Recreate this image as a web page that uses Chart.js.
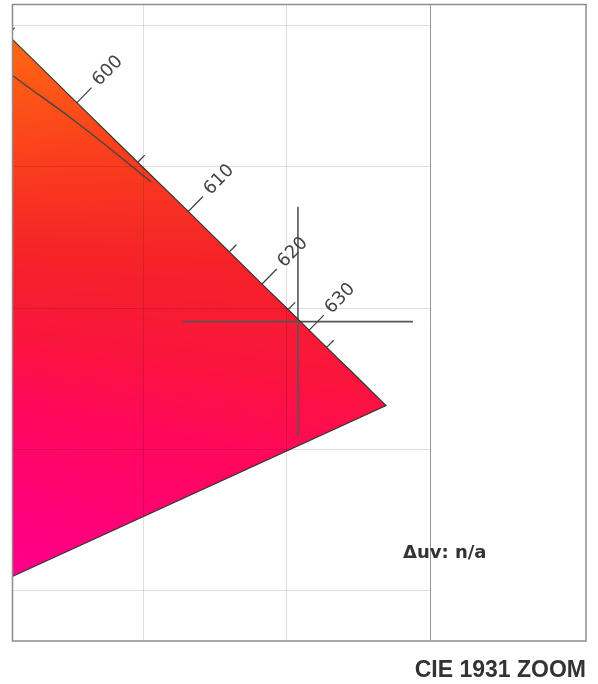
<!DOCTYPE html>
<html><head><meta charset="utf-8">
<script src="https://cdn.jsdelivr.net/npm/chart.js@4.4.1/dist/chart.umd.min.js"></script>
<style>html,body{margin:0;padding:0;background:#fff;} #wrap{width:598px;height:684px;}</style>
</head><body><div id="wrap"><canvas id="c" width="598" height="684"></canvas></div>
<script>
// CIE 1931 spectral locus (nm, x, y)
const SPECTRAL_NM = [575,580,585,590,595,600,605,610,615,620,625,630,635,640,645,650,655,660,665,670,675,680,685,690,695,700];
const SPECTRAL_X = [0.4788,0.5125,0.5448,0.5752,0.6029,0.6270,0.6482,0.6658,0.6801,0.6915,0.7006,0.7079,0.7140,0.7190,0.7230,0.7260,0.7283,0.7300,0.7311,0.7320,0.7327,0.7334,0.7340,0.7344,0.7346,0.7347];
const SPECTRAL_Y = [0.5202,0.4866,0.4544,0.4242,0.3965,0.3725,0.3514,0.3340,0.3197,0.3083,0.2993,0.2920,0.2859,0.2809,0.2770,0.2740,0.2717,0.2700,0.2689,0.2680,0.2673,0.2666,0.2660,0.2656,0.2654,0.2653];
// line of purples end (380 nm)
const PURPLE_END_X = [0.1741];
const PURPLE_END_Y = [0.0050];
// Planckian locus (K, x, y)
const PLANCK_K = [1000,1100,1200,1300,1400,1500];
const PLANCK_X = [0.6528,0.6387,0.6251,0.6117,0.5992,0.5857];
const PLANCK_Y = [0.3444,0.3561,0.3669,0.3768,0.3858,0.3940];
// wavelength ticks and labels
const TICK_NM = [595,600,605,610,615,620,625,630,635];
const LABEL_NM = [600,610,620,630];
// target crosshair
const TARGET_X = [0.7040];
const TARGET_Y = [0.2950];
// grid lines
const GRID_X = [0.65,0.70];
const GRID_Y = [0.20,0.25,0.30,0.35,0.40];
const X_MIN = 0.6044, X_MAX = 0.75, Y_MIN = 0.1820, Y_MAX = 0.4074;
const TITLE = 'CIE 1931 ZOOM';
const DUV_TEXT = 'Δuv: n/a';
// fill palette by hue angle around the white point
const WHITE_X = 0.3127, WHITE_Y = 0.3290;
const HUE_DEG = [-24,-20,-12,-8,-2,5,12,16];
const HUE_RGB = [[255,0,140],[255,0,128],[255,8,90],[250,20,62],[245,35,40],[250,65,28],[255,100,20],[255,110,15]];

const locusPts = SPECTRAL_X.map((x,i)=>({x, y:SPECTRAL_Y[i]}));
locusPts.push({x:PURPLE_END_X[0], y:PURPLE_END_Y[0]});
locusPts.push({x:SPECTRAL_X[0], y:SPECTRAL_Y[0]});
const planckPts = PLANCK_X.map((x,i)=>({x, y:PLANCK_Y[i]}));
const targetPts = TARGET_X.map((x,i)=>({x, y:TARGET_Y[i]}));

function hueColor(x, y){
  const t = Math.atan2(y-WHITE_Y, x-WHITE_X)*180/Math.PI;
  if (t <= HUE_DEG[0]) return HUE_RGB[0];
  for (let i=1;i<HUE_DEG.length;i++){
    if (t <= HUE_DEG[i]){
      const f = (t-HUE_DEG[i-1])/(HUE_DEG[i]-HUE_DEG[i-1]);
      const a = HUE_RGB[i-1], b = HUE_RGB[i];
      return [a[0]+(b[0]-a[0])*f, a[1]+(b[1]-a[1])*f, a[2]+(b[2]-a[2])*f];
    }
  }
  return HUE_RGB[HUE_RGB.length-1];
}

const cieFill = {
  id:'cieFill',
  beforeDatasetsDraw(chart){
    const {ctx, chartArea:a, scales:{x:sx, y:sy}} = chart;
    const w = Math.round(a.right-a.left), h = Math.round(a.bottom-a.top);
    const off = document.createElement('canvas'); off.width = w; off.height = h;
    const octx = off.getContext('2d');
    const img = octx.createImageData(w,h);
    for (let j=0;j<h;j++){
      const yv = sy.getValueForPixel(a.top+j+0.5);
      for (let i=0;i<w;i++){
        const xv = sx.getValueForPixel(a.left+i+0.5);
        const c = hueColor(xv,yv);
        const k = (j*w+i)*4;
        img.data[k]=c[0]; img.data[k+1]=c[1]; img.data[k+2]=c[2]; img.data[k+3]=255;
      }
    }
    octx.putImageData(img,0,0);
    ctx.save();
    ctx.beginPath(); ctx.rect(a.left,a.top,a.right-a.left,a.bottom-a.top); ctx.clip();
    ctx.beginPath();
    locusPts.forEach((p,i)=>{ const px=sx.getPixelForValue(p.x), py=sy.getPixelForValue(p.y); i?ctx.lineTo(px,py):ctx.moveTo(px,py); });
    ctx.closePath(); ctx.clip();
    ctx.drawImage(off,a.left,a.top);
    ctx.restore();
    // grid
    ctx.save();
    ctx.strokeStyle = 'rgba(0,0,0,0.12)'; ctx.lineWidth = 1;
    GRID_X.forEach(g=>{ const px=Math.round(sx.getPixelForValue(g))+0.5; ctx.beginPath(); ctx.moveTo(px,a.top); ctx.lineTo(px,a.bottom); ctx.stroke(); });
    GRID_Y.forEach(g=>{ const py=Math.round(sy.getPixelForValue(g))+0.5; ctx.beginPath(); ctx.moveTo(a.left,py); ctx.lineTo(a.right,py); ctx.stroke(); });
    ctx.restore();
  },
  afterDatasetsDraw(chart){
    const {ctx, chartArea:a, scales:{x:sx, y:sy}} = chart;
    const P = nm => { const i = SPECTRAL_NM.indexOf(nm); return {x:sx.getPixelForValue(SPECTRAL_X[i]), y:sy.getPixelForValue(SPECTRAL_Y[i])}; };
    ctx.save();
    ctx.beginPath(); ctx.rect(a.left,a.top,a.right-a.left,a.bottom-a.top); ctx.clip();
    ctx.strokeStyle = '#444'; ctx.lineWidth = 1.3; ctx.fillStyle = '#444';
    TICK_NM.forEach(nm=>{
      const p = P(nm), p0 = P(nm-5), p1 = P(nm+5);
      let tx = p1.x-p0.x, ty = p1.y-p0.y; const L = Math.hypot(tx,ty); tx/=L; ty/=L;
      const nx = ty, ny = -tx;
      const lab = LABEL_NM.includes(nm);
      const len = lab ? 21 : 10;
      ctx.beginPath(); ctx.moveTo(p.x,p.y); ctx.lineTo(p.x+nx*len, p.y+ny*len); ctx.stroke();
      if (lab){
        ctx.save();
        ctx.translate(p.x+nx*27, p.y+ny*27);
        ctx.rotate(Math.atan2(ny,nx));
        ctx.font = '18px "DejaVu Sans", sans-serif';
        ctx.textAlign = 'left'; ctx.textBaseline = 'middle';
        ctx.fillText(String(nm),0,0);
        ctx.restore();
      }
    });
    ctx.restore();
    // frame
    ctx.save();
    ctx.strokeStyle = '#8c8c8c'; ctx.lineWidth = 1.5;
    ctx.strokeRect(12.5, 4.5, 573.5, 636.5);
    ctx.strokeStyle = '#999'; ctx.lineWidth = 1;
    ctx.beginPath(); ctx.moveTo(Math.round(a.right)+0.5, a.top); ctx.lineTo(Math.round(a.right)+0.5, a.bottom); ctx.stroke();
    ctx.fillStyle = '#333';
    ctx.font = 'bold 18px "DejaVu Sans", sans-serif';
    ctx.textAlign = 'left'; ctx.textBaseline = 'alphabetic';
    ctx.fillText(DUV_TEXT, 403, 558);
    ctx.font = 'bold 23px "Liberation Sans", Arial, sans-serif';
    ctx.textAlign = 'right';
    ctx.fillText(TITLE, 586, 677);
    ctx.restore();
  }
};

new Chart(document.getElementById('c'), {
  type:'scatter',
  data:{ datasets:[
    { label:'locus', data:locusPts, showLine:true, borderColor:'#333', borderWidth:1.1, pointRadius:0, fill:false, tension:0, clip:0 },
    { label:'planck', data:planckPts, showLine:true, borderColor:'#444', borderWidth:1.3, pointRadius:0, fill:false, tension:0.4, clip:0 },
    { label:'target', data:targetPts, showLine:false, pointStyle:'cross', pointRadius:115, pointHoverRadius:115, borderColor:'#555', borderWidth:1.6, clip:0 }
  ]},
  options:{
    responsive:false, animation:false, devicePixelRatio:1, events:[],
    layout:{ autoPadding:false, padding:{ left:12, top:4, right:168, bottom:43 } },
    scales:{
      x:{ type:'linear', min:X_MIN, max:X_MAX, display:false },
      y:{ type:'linear', min:Y_MIN, max:Y_MAX, display:false }
    },
    plugins:{ legend:{display:false}, tooltip:{enabled:false} }
  },
  plugins:[cieFill]
});
</script></body></html>
